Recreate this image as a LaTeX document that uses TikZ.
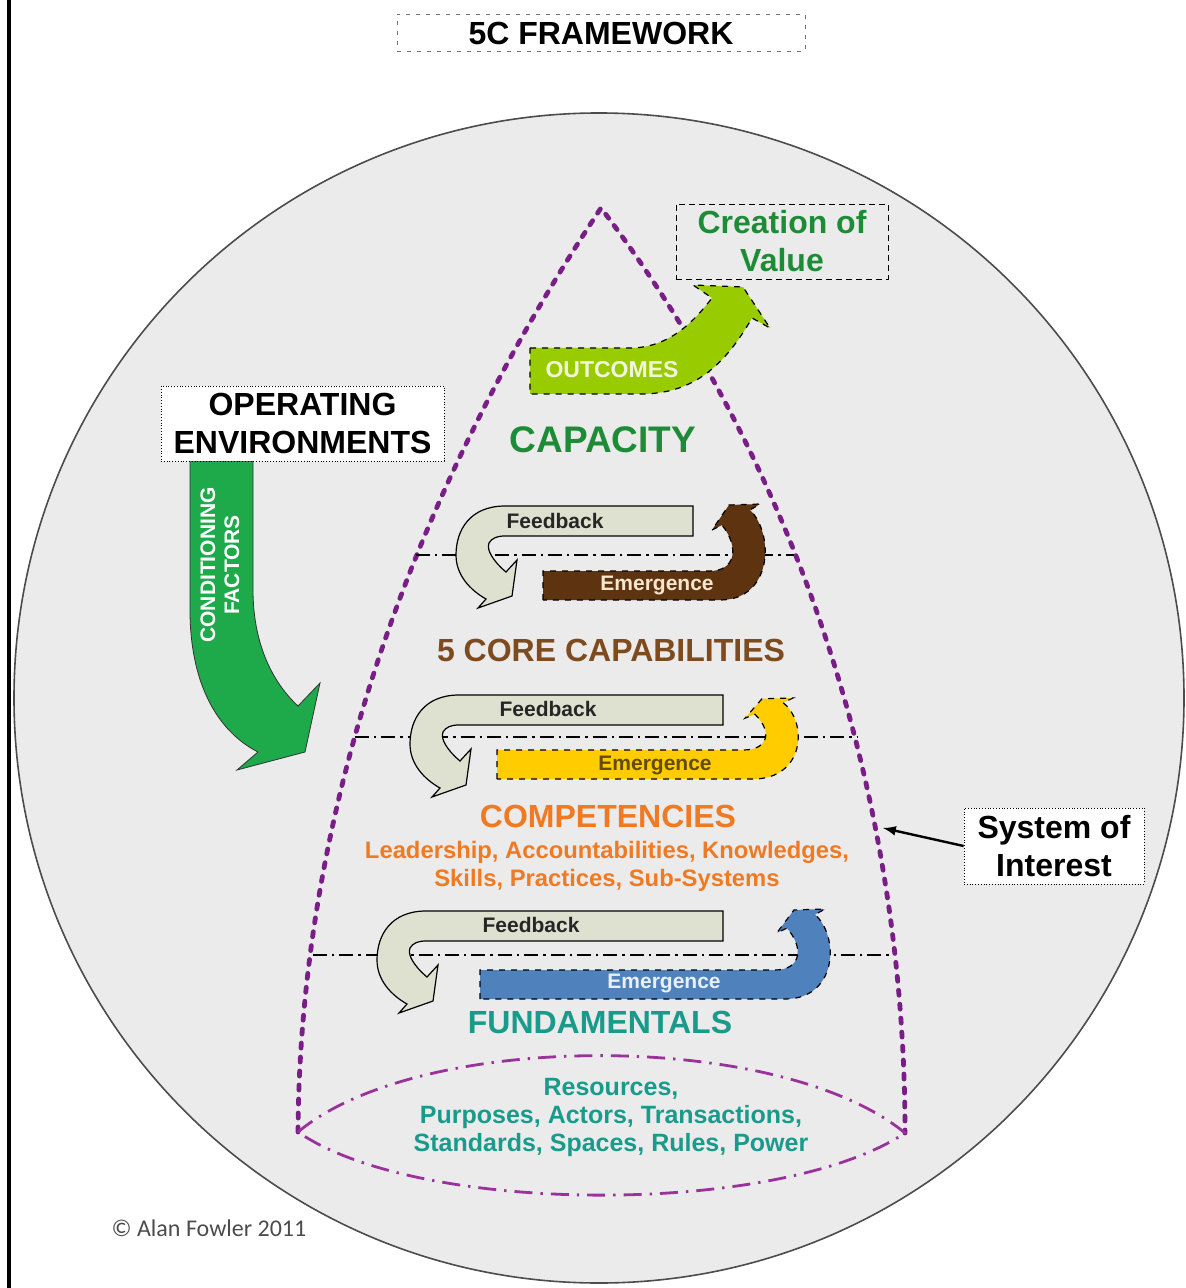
\documentclass[tikz,border=0pt]{standalone}
\usepackage{fontspec}
\setmainfont{Liberation Sans}
\newfontfamily\notefont{Carlito}
\usetikzlibrary{arrows,positioning}

\definecolor{circlegray}{RGB}{235,235,235}
\definecolor{purp}{RGB}{122,30,135}
\definecolor{lensp}{RGB}{155,50,155}
\definecolor{capgreen}{RGB}{30,140,55}
\definecolor{corebrown}{RGB}{125,75,30}
\definecolor{comporange}{RGB}{240,122,34}
\definecolor{fundteal}{RGB}{25,155,140}
\definecolor{limegreen}{RGB}{153,204,0}
\definecolor{condgreen}{RGB}{30,170,75}
\definecolor{fbgray}{RGB}{222,225,207}
\definecolor{embrown}{RGB}{94,52,16}
\definecolor{emyellow}{RGB}{255,204,0}
\definecolor{emblue}{RGB}{79,129,189}

\tikzstyle{labelbox}=[draw=black, densely dotted, fill=white, align=center, inner sep=0pt,
        font=\fontsize{16}{19}\selectfont\bfseries]
\tikzstyle{tier}=[font=\fontsize{16}{19}\selectfont\bfseries]
\tikzstyle{items}=[align=center, font=\fontsize{11.9}{14}\selectfont\bfseries]
\tikzstyle{arrowtext}=[font=\fontsize{10.5}{12}\selectfont\bfseries]
\tikzstyle{feedback}=[draw=black, line width=0.6pt, fill=fbgray]
\tikzstyle{emergence}=[draw=black, dashed, line width=0.6pt]
\tikzstyle{rowline}=[black, line width=0.6pt, dash pattern=on 7pt off 2.5pt on 1.2pt off 2.5pt]
\tikzstyle{systemline}=[purp, line width=2.4pt, line cap=round, dash pattern=on 2.5pt off 4.5pt]
\tikzstyle{lensline}=[lensp, line width=1.4pt, dash pattern=on 9pt off 4pt on 1.2pt off 4pt]

\begin{document}
\begin{tikzpicture}[x=0.5pt, y=-0.5pt]
    \useasboundingbox (0,0) rectangle (1185,1288);
    \fill[white] (0,0) rectangle (1185,1288);
    \draw[black, line width=2pt] (9,0) -- (9,1288);

    % the environment
    \draw[fill=circlegray, draw=black!70, line width=0.8pt] (599,698) circle [radius=585];

    % system of interest
    \draw[systemline] (298,1132) .. controls (300,800) and (420,480) .. (601,208)
        .. controls (800,470) and (905,800) .. (905,1133);
    \draw[lensline] (298,1132) .. controls (420,1030) and (780,1030) .. (905,1133)
        .. controls (780,1216) and (420,1216) .. (298,1132);

    \coordinate (r1w) at (416,555);
    \coordinate (r1e) at (794,555);
    \coordinate (r2w) at (355,737);
    \coordinate (r2e) at (858,737);
    \coordinate (r3w) at (313,955);
    \coordinate (r3e) at (893,955);
    \draw[rowline] (r1w) -- (r1e);
    \draw[rowline] (r2w) -- (r2e);
    \draw[rowline] (r3w) -- (r3e);

    % feedback and emergence loops
    \foreach \fx/\fy/\fr in {456/506/237, 410/695/313, 377/911/346}
        \draw[feedback, shift={(\fx,\fy)}] (\fr,0) -- (49,0) .. controls (14,0) and (0,24) .. (0,49)
            .. controls (0,69) and (14,84) .. (30,93) -- (22,102) -- (56,90) -- (61,54) -- (50,66)
            .. controls (38,56) and (30,44) .. (33,37) .. controls (36,32) and (41,30) .. (49,30)
            -- (\fr,30) -- cycle;
    \foreach \ox/\oy/\bl/\s/\fc in {767/571/-224/1/embrown, 800/750/-303/0.776/emyellow, 832/970/-352/0.91/emblue}
        \draw[emergence, fill=\fc, shift={(\ox,\oy)}] (\bl,29) -- (\bl,0) -- (-57,0)
            .. controls (-32,0) and (-27,{-23*\s}) .. (-45,{-46*\s}) -- (-55,{-41*\s})
            -- (-38,{-66*\s}) -- (-7,{-67*\s}) -- (-17,{-61*\s})
            .. controls (8,{-36*\s}) and (5,29) .. (-47,29) -- cycle;

    % outcomes
    \draw[emergence, fill=limegreen] (530,348) -- (630,348) .. controls (670,348) and (695,320) .. (712,298)
        -- (693,285) -- (743,287) -- (770,328) -- (752,318)
        .. controls (722,370) and (690,394) .. (640,394) -- (530,394) -- cycle;

    % conditioning factors
    \draw[fill=condgreen, draw=black!80, line width=0.4pt] (190,461) -- (190,610)
        .. controls (190,680) and (215,730) .. (258,752) -- (237,770) -- (305,752) -- (320,683)
        -- (298,706) .. controls (270,680) and (253,640) .. (253,590) -- (253,461) -- cycle;

    \node (title) [labelbox, draw=black!55, dash pattern=on 2pt off 3pt, minimum width=204pt, minimum height=18.5pt]
        at (601,33) {5C FRAMEWORK};
    \node (creation) [labelbox, densely dashed, fill=none, text=capgreen, minimum width=106pt, minimum height=37.5pt]
        at (782,241.5) {Creation of\\Value};
    \node (openv) [labelbox, minimum width=141.5pt, minimum height=37.5pt]
        at (302.5,423.5) {OPERATING\\ENVIRONMENTS};
    \node (soi) [labelbox, minimum width=90pt, minimum height=38pt]
        at (1054,846) {System of\\Interest};
    \coordinate (soitip) at (883,828);
    \draw[-latex, line width=1.2pt] (soi.west) -- (soitip);

    \node (outcomes) [font=\fontsize{11.5}{13}\selectfont\bfseries, text={rgb,255:red,242;green,246;blue,220}]
        at (612,370) {OUTCOMES};
    \node (conditioning) [arrowtext, align=center, text=white, rotate=90] at (220,565) {CONDITIONING\\FACTORS};

    \node (capacity) [tier, font=\fontsize{18.5}{22}\selectfont\bfseries, text=capgreen] at (603,440) {CAPACITY};
    \node (corecap) [tier, text=corebrown] at (611,650) {5 CORE CAPABILITIES};
    \node (comp) [tier, text=comporange] at (608,816) {COMPETENCIES};
    \node (compitems) [items, text=comporange] at (607,866)
        {Leadership, Accountabilities, Knowledges,\\Skills, Practices, Sub-Systems};
    \node (fund) [tier, text=fundteal] at (600,1022) {FUNDAMENTALS};
    \node (funditems) [items, font=\fontsize{12.5}{14}\selectfont\bfseries, text=fundteal] at (611,1117)
        {Resources,\\Purposes, Actors, Transactions,\\Standards, Spaces, Rules, Power};

    \node (fb1) [arrowtext, text=black!85] at (555,521) {Feedback};
    \node (fb2) [arrowtext, text=black!85] at (548,709) {Feedback};
    \node (fb3) [arrowtext, text=black!85] at (531,925) {Feedback};
    \node (em1) [arrowtext, text={rgb,255:red,247;green,231;blue,207}] at (657,585) {Emergence};
    \node (em2) [arrowtext, text={rgb,255:red,100;green,75;blue,0}] at (655,765) {Emergence};
    \node (em3) [arrowtext, text={rgb,255:red,232;green,240;blue,250}] at (664,983) {Emergence};

    \node (copyright) [font=\notefont\fontsize{12}{14}\selectfont, text=black!70] at (209,1228) {© Alan Fowler 2011};
\end{tikzpicture}
\end{document}
